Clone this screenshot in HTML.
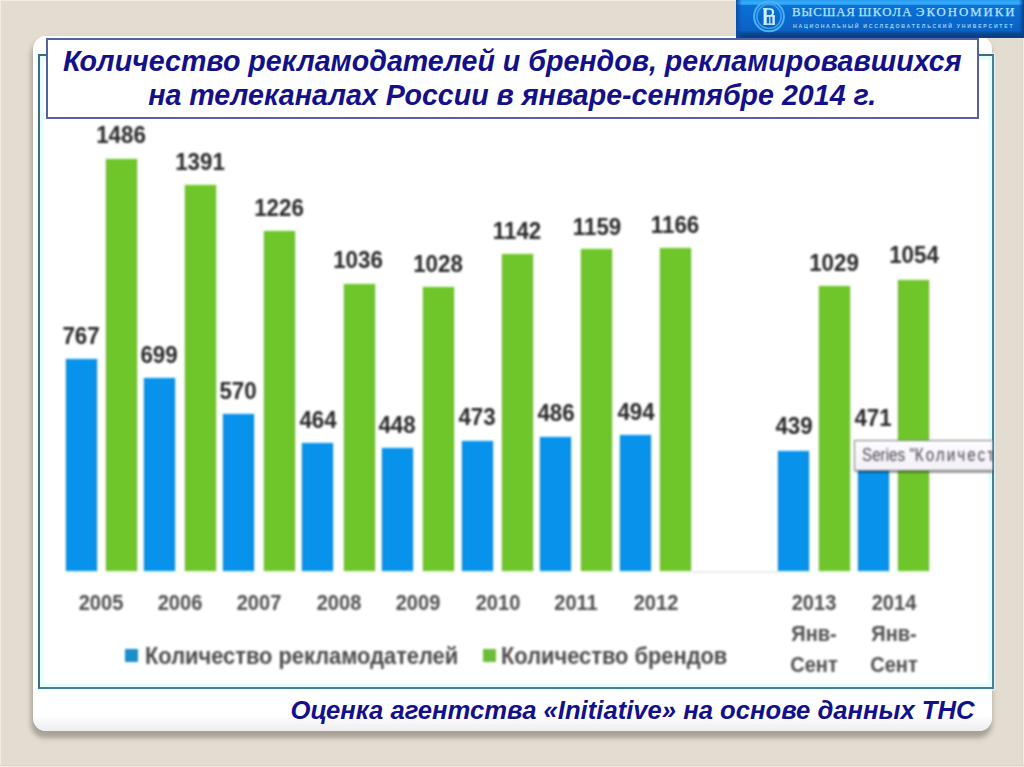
<!DOCTYPE html>
<html><head><meta charset="utf-8">
<style>
*{margin:0;padding:0;box-sizing:border-box}
html,body{width:1024px;height:767px;overflow:hidden;background:#e3dcd1}
body{position:relative;background:#e3dcd1;font-family:"Liberation Sans",sans-serif}
#s{position:absolute;left:0;top:0;width:1024px;height:767px;overflow:hidden;background:#e3dcd1}
.blr{position:absolute;left:0;top:0;width:1024px;height:767px;filter:blur(0.8px)}
.blr2{position:absolute;left:0;top:0;width:1024px;height:767px}
.edge-t{position:absolute;left:0;top:0;width:1024px;height:1px;background:#f4ece2}
.edge-l{position:absolute;left:0;top:0;width:1px;height:767px;background:#f4ece2}
.edge-r{position:absolute;left:1022px;top:0;width:2px;height:767px;background:linear-gradient(90deg,#dcd5c9 0,#dcd5c9 1px,#f5ede3 1px)}
.edge-b{position:absolute;left:0;top:765px;width:1024px;height:2px;background:linear-gradient(#dcd5c9 0,#dcd5c9 1px,#f5ede3 1px)}
.banner{position:absolute;left:736px;top:0;width:288px;height:37.5px;
  background:linear-gradient(#2a9cf0 0,#34acfc 3px,#2a9cf0 4.5px,#0c70d4 5.5px,#0a68cc 20px,#0a62c2 30.5px,#0a54a4 32px,#0a4890 34px,#0a3d86 36.5px,#1a3a8e 37.5px)}
.banner .lft{position:absolute;left:0;top:0;width:6px;height:100%;background:linear-gradient(90deg,#0a4ea8,rgba(10,80,170,0))}
.banner .rgt{position:absolute;right:0;top:0;width:5px;height:100%;background:linear-gradient(90deg,rgba(10,60,130,0),#0a3f86)}
.card{position:absolute;left:32.5px;top:35.5px;width:959.5px;height:695.5px;background:#fff;border-radius:13px;
  box-shadow:-1px 6px 5px 1px rgba(70,68,58,.38)}
.cardgrad{position:absolute;left:32.5px;top:700px;width:959.5px;height:31px;border-radius:0 0 13px 13px;
  background:linear-gradient(rgba(255,255,255,0) 0,rgba(255,255,255,0) 15px,#eeeef2 31px)}
.frame{position:absolute;left:38px;top:54.3px;width:955.8px;height:634.4px;border:2px solid;border-color:#406c7c #467e98 #467e98 #406c7c;
  box-shadow:inset 0 0 1px 3.5px #e6fdfd,0 0 2px 1px #e6fcff}
.tbox{position:absolute;left:45.5px;top:37.8px;width:933px;height:81.5px;background:#fff;border:2px solid #5262a2}
.title{position:absolute;left:45.5px;top:43.5px;width:933.5px;text-align:center;color:#14108a;
  font:bold italic 28.6px/34.6px "Liberation Sans",sans-serif;white-space:nowrap}
.bar{position:absolute;width:31px}
.bar.b{background:#0792ec;box-shadow:inset 1px 0 0 rgba(20,90,150,.45),inset -1px 0 0 rgba(20,90,150,.45),0 0 2px 1px #dcfaff}
.bar.g{background:#6fc62a;box-shadow:inset 1px 0 0 rgba(100,150,60,.5),inset -1px 0 0 rgba(100,150,60,.5),0 0 2px 1px #effcdf}
.dl{position:absolute;width:80px;text-align:center;color:#282828;font:bold 23px/23px "Liberation Sans",sans-serif;transform:scaleX(0.97)}
.xl{position:absolute;width:80px;text-align:center;color:#4f4f4f;font:bold 22.5px/30.8px "Liberation Sans",sans-serif;transform:scaleX(0.89)}
.axis{position:absolute;left:60px;top:570.5px;width:880px;height:2px;background:#ebebeb}
.leg{position:absolute;top:644px;color:#4a4a4a;font:bold 23.5px/24px "Liberation Sans",sans-serif;white-space:nowrap;transform:scaleX(0.93);transform-origin:left top}
.sq{position:absolute;width:13px;height:13px;top:649.2px}
.tip{position:absolute;left:853.8px;top:440.2px;width:138.2px;height:31px;border:1.2px solid #7a7a7a;border-right:none;
  background:linear-gradient(#fdfcff,#f3f1f7);box-shadow:1px 1.5px 1px rgba(0,0,0,.35);overflow:hidden}
.tip span{position:absolute;left:7.5px;top:3.5px;font:17.5px/20px "Liberation Sans",sans-serif;color:#4a4455;white-space:nowrap;transform:scaleX(0.87);transform-origin:left top}
.foot{position:absolute;left:0;top:695.5px;width:1024px;padding-left:290.5px;color:#13108c;
  font:bold italic 25.65px/28px "Liberation Sans",sans-serif;white-space:nowrap}
.hse1{position:absolute;top:4.6px;font:12.8px/14px "Liberation Serif",serif;color:#b4e4ff;letter-spacing:1.32px;white-space:nowrap;-webkit-text-stroke:0.25px #b4e4ff}
.hse2{position:absolute;left:793px;top:22.5px;font:bold 5.2px/7px "Liberation Sans",sans-serif;color:#9fd2f4;letter-spacing:1.72px;white-space:nowrap}
</style></head><body><div id="s">
<div class="edge-t"></div><div class="edge-l"></div><div class="edge-r"></div><div class="edge-b"></div>
<div class="card"></div>
<div class="cardgrad"></div>
<div class="frame"></div>
<div class="blr"><div class="axis" style="left:692px;width:86px"></div>
<div class="bar b" style="left:66px;top:359px;height:212px"></div><div class="bar g" style="left:106px;top:159px;height:412px"></div><div class="bar b" style="left:144px;top:378px;height:193px"></div><div class="bar g" style="left:185px;top:185px;height:386px"></div><div class="bar b" style="left:223px;top:414px;height:157px"></div><div class="bar g" style="left:264px;top:231px;height:340px"></div><div class="bar b" style="left:302px;top:443px;height:128px"></div><div class="bar g" style="left:344px;top:284px;height:287px"></div><div class="bar b" style="left:382px;top:448px;height:123px"></div><div class="bar g" style="left:423px;top:287px;height:284px"></div><div class="bar b" style="left:462px;top:441px;height:130px"></div><div class="bar g" style="left:502px;top:254px;height:317px"></div><div class="bar b" style="left:540px;top:437px;height:134px"></div><div class="bar g" style="left:581px;top:249px;height:322px"></div><div class="bar b" style="left:620px;top:435px;height:136px"></div><div class="bar g" style="left:660px;top:248px;height:323px"></div><div class="bar b" style="left:778px;top:451px;height:120px"></div><div class="bar g" style="left:819px;top:286px;height:285px"></div><div class="bar b" style="left:858px;top:441px;height:130px"></div><div class="bar g" style="left:898px;top:280px;height:291px"></div>
<div class="dl" style="left:41.1px;top:324.5px">767</div><div class="dl" style="left:80.6px;top:123.5px">1486</div><div class="dl" style="left:119.3px;top:343.5px">699</div><div class="dl" style="left:160.3px;top:150.5px">1391</div><div class="dl" style="left:198.4px;top:379.5px">570</div><div class="dl" style="left:238.6px;top:196.5px">1226</div><div class="dl" style="left:278.1px;top:408.5px">464</div><div class="dl" style="left:318.3px;top:248.5px">1036</div><div class="dl" style="left:357.3px;top:413.5px">448</div><div class="dl" style="left:398.3px;top:252.5px">1028</div><div class="dl" style="left:437.3px;top:405.5px">473</div><div class="dl" style="left:477.1px;top:219.5px">1142</div><div class="dl" style="left:515.9px;top:401.5px">486</div><div class="dl" style="left:556.6px;top:215.5px">1159</div><div class="dl" style="left:595.8px;top:400.5px">494</div><div class="dl" style="left:635.0px;top:213.5px">1166</div><div class="dl" style="left:753.6px;top:414.5px">439</div><div class="dl" style="left:794.2px;top:251.5px">1029</div><div class="dl" style="left:833.3px;top:406.5px">471</div><div class="dl" style="left:873.9px;top:243.5px">1054</div>
<div class="xl" style="left:61.3px;top:588px">2005</div><div class="xl" style="left:139.8px;top:588px">2006</div><div class="xl" style="left:219.0px;top:588px">2007</div><div class="xl" style="left:298.7px;top:588px">2008</div><div class="xl" style="left:377.8px;top:588px">2009</div><div class="xl" style="left:457.7px;top:588px">2010</div><div class="xl" style="left:536.2px;top:588px">2011</div><div class="xl" style="left:615.9px;top:588px">2012</div><div class="xl" style="left:773.9px;top:588px">2013<br>Янв-<br>Сент</div><div class="xl" style="left:853.6px;top:588px">2014<br>Янв-<br>Сент</div>
<div class="sq" style="left:125.3px;background:#1a8ec8"></div>
<div class="leg" style="left:145.3px">Количество рекламодателей</div>
<div class="sq" style="left:483px;background:#6cbd3a"></div>
<div class="leg" style="left:501.3px">Количество брендов</div>
<div class="tip"><span>Series "<b style="font-weight:normal;letter-spacing:2.3px">Количество</b></span></div></div>
<div class="tbox"></div>
<div class="title">Количество рекламодателей и брендов, рекламировавшихся<br>на телеканалах России в январе-сентябре 2014 г.</div>
<div class="foot">Оценка агентства «Initiative» на основе данных ТНС</div>
<div class="blr2"><div class="banner"><div class="lft"></div><div class="rgt"></div></div>
<svg class="logosvg" width="40" height="38" viewBox="749 0 40 38" style="position:absolute;left:749px;top:0">
<circle cx="769" cy="16.4" r="14.9" fill="none" stroke="#4cb0f4" stroke-width="2"/>
<circle cx="769" cy="16.4" r="12.1" fill="none" stroke="#3ea6f0" stroke-width="1.6"/>
<g fill="#d4f1ff">
<rect x="763.6" y="8.2" width="3.1" height="16.6"/>
<rect x="762.9" y="8.2" width="4.5" height="1.1"/>
<path fill-rule="evenodd" d="M766.6 8.2 H770.2 C772.7 8.2 774.1 9.7 774.1 12 C774.1 13.8 773.3 15.1 772 15.7 L766.6 16.9 Z M766.6 9.7 H769.7 C771.2 9.7 772 10.6 772 12.2 C772 13.8 771.1 15.2 769.6 15.2 H766.6 Z"/>
<rect x="766.6" y="15.2" width="8.2" height="1.5"/>
<rect x="772.4" y="15.2" width="2.4" height="9.6"/>
<rect x="769.2" y="16.5" width="1.2" height="8.3"/>
<rect x="763.6" y="23.5" width="11.2" height="1.3"/>
</g></svg>
<div class="hse1" style="left:792px;letter-spacing:0.75px">ВЫСШАЯ</div><div class="hse1" style="left:858.5px">ШКОЛА</div><div class="hse1" style="left:916px;letter-spacing:1.95px">ЭКОНОМИКИ</div>
<div class="hse2">НАЦИОНАЛЬНЫЙ ИССЛЕДОВАТЕЛЬСКИЙ УНИВЕРСИТЕТ</div></div>
</div></body></html>
